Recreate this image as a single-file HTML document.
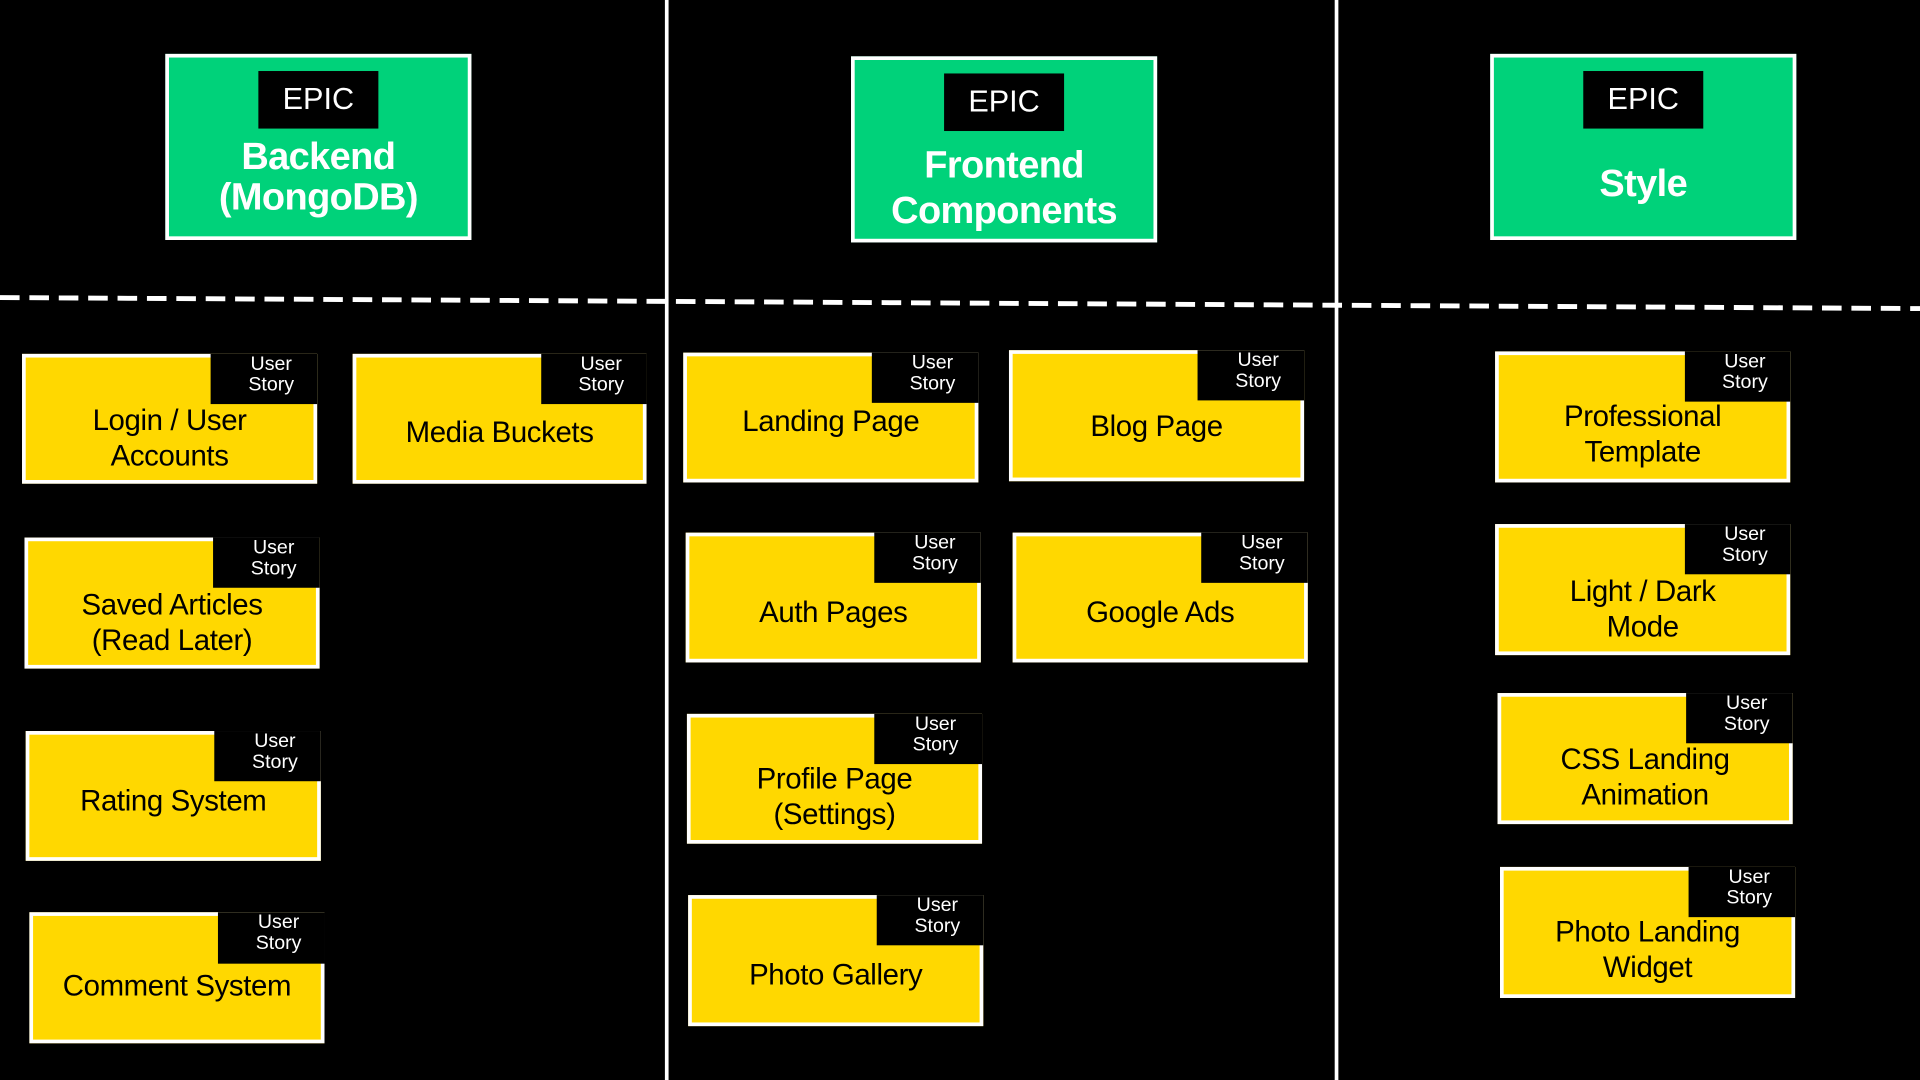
<!DOCTYPE html>
<html><head><meta charset="utf-8"><style>
html,body{margin:0;padding:0;background:#000;width:1920px;height:1080px;overflow:hidden}
#s{position:absolute;left:0;top:0;width:1568px;height:882px;transform:scale(1.22449);transform-origin:0 0;font-family:"Liberation Sans",sans-serif}
.v{position:absolute;top:0;height:882px;width:3px;background:#fff}
.epic{position:absolute;width:244px;height:146px;background:#00d27a;border:3px solid #fff}
.epic .tag{position:absolute;left:73px;top:11px;width:98px;height:47px;background:#000;color:#fff;font-size:25px;line-height:47px;text-align:center}
.epic .t{position:absolute;left:0;right:0;color:#fff;font-weight:bold;font-size:31px;line-height:37px;text-align:center;letter-spacing:-0.5px}
.c{position:absolute;background:#ffd800;border:3px solid #fff;box-sizing:border-box}
.c .n{position:absolute;top:-3px;right:-3px;background:#000;color:#fff;font-size:16px;line-height:17px;text-align:center;padding-top:0;padding-left:12px;box-sizing:border-box}
.c .t{position:absolute;left:0;right:0;bottom:0;display:flex;align-items:center;justify-content:center;text-align:center;font-size:24px;line-height:29px;color:#000;letter-spacing:-0.3px}
</style></head><body><div id="s">
<div class="v" style="left:543px"></div>
<div class="v" style="left:1090px"></div>
<svg style="position:absolute;left:0;top:0" width="1568" height="882"><line x1="0" y1="243" x2="1568" y2="252" stroke="#fff" stroke-width="4" stroke-dasharray="16 8"/></svg>

<div class="epic" style="left:135px;top:44px"><div class="tag">EPIC</div><div class="t" style="top:64px;line-height:33px">Backend<br>(MongoDB)</div></div>
<div class="epic" style="left:695px;top:46px"><div class="tag">EPIC</div><div class="t" style="top:67px">Frontend<br>Components</div></div>
<div class="epic" style="left:1217px;top:44px"><div class="tag">EPIC</div><div class="t" style="top:84px">Style</div></div>

<div class="c" style="left:18px;top:289px;width:241px;height:106px"><div class="n" style="width:87px;height:41px">User<br>Story</div><div class="t" style="top:32px">Login / User<br>Accounts</div></div>
<div class="c" style="left:288px;top:289px;width:240px;height:106px"><div class="n" style="width:86px;height:41px">User<br>Story</div><div class="t" style="top:22px">Media Buckets</div></div>
<div class="c" style="left:20px;top:439px;width:241px;height:107px"><div class="n" style="width:87px;height:41px">User<br>Story</div><div class="t" style="top:32px">Saved Articles<br>(Read Later)</div></div>
<div class="c" style="left:21px;top:597px;width:241px;height:106px"><div class="n" style="width:87px;height:41px">User<br>Story</div><div class="t" style="top:8px">Rating System</div></div>
<div class="c" style="left:24px;top:745px;width:241px;height:107px"><div class="n" style="width:87px;height:42px">User<br>Story</div><div class="t" style="top:14px">Comment System</div></div>

<div class="c" style="left:558px;top:288px;width:241px;height:106px"><div class="n" style="width:87px;height:41px">User<br>Story</div><div class="t" style="top:6px">Landing Page</div></div>
<div class="c" style="left:824px;top:286px;width:241px;height:107px"><div class="n" style="width:87px;height:41px">User<br>Story</div><div class="t" style="top:18px">Blog Page</div></div>
<div class="c" style="left:560px;top:435px;width:241px;height:106px"><div class="n" style="width:87px;height:41px">User<br>Story</div><div class="t" style="top:24px">Auth Pages</div></div>
<div class="c" style="left:827px;top:435px;width:241px;height:106px"><div class="n" style="width:87px;height:41px">User<br>Story</div><div class="t" style="top:24px">Google Ads</div></div>
<div class="c" style="left:561px;top:583px;width:241px;height:106px"><div class="n" style="width:88px;height:41px">User<br>Story</div><div class="t" style="top:30px">Profile Page<br>(Settings)</div></div>
<div class="c" style="left:562px;top:731px;width:241px;height:107px"><div class="n" style="width:87px;height:41px">User<br>Story</div><div class="t" style="top:24px">Photo Gallery</div></div>

<div class="c" style="left:1221px;top:287px;width:241px;height:107px"><div class="n" style="width:86px;height:41px">User<br>Story</div><div class="t" style="top:28px">Professional<br>Template</div></div>
<div class="c" style="left:1221px;top:428px;width:241px;height:107px"><div class="n" style="width:86px;height:41px">User<br>Story</div><div class="t" style="top:32px">Light / Dark<br>Mode</div></div>
<div class="c" style="left:1223px;top:566px;width:241px;height:107px"><div class="n" style="width:87px;height:41px">User<br>Story</div><div class="t" style="top:30px">CSS Landing<br>Animation</div></div>
<div class="c" style="left:1225px;top:708px;width:241px;height:107px"><div class="n" style="width:87px;height:41px">User<br>Story</div><div class="t" style="top:28px">Photo Landing<br>Widget</div></div>
</div></body></html>
